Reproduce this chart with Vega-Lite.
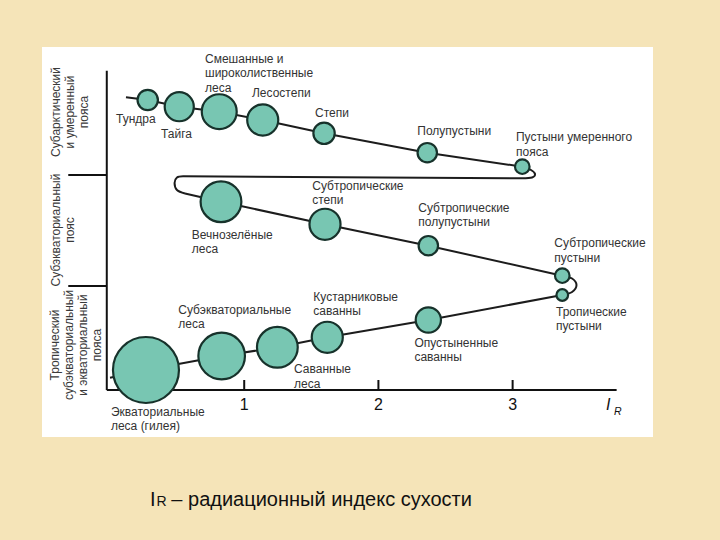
{
  "$schema": "https://vega.github.io/schema/vega-lite/v6.json",
  "width": 611,
  "height": 390,
  "autosize": {"type": "none"},
  "padding": {"left": 42, "top": 47, "right": 67, "bottom": 103},
  "background": "#F5E4B8",
  "config": {"view": {"fill": "white", "stroke": null}, "font": "Liberation Sans"},
  "datasets": {
    "axes": [
      {"x": -0.024, "y": 0, "x2": 3.775, "y2": 0},
      {"x": -0.024, "y": 0, "x2": -0.024, "y2": 319.3},
      {"x": -0.311, "y": 215, "x2": -0.024, "y2": 215},
      {"x": -0.311, "y": 104, "x2": -0.024, "y2": 104},
      {"x": 1, "y": 0, "x2": 1, "y2": 10},
      {"x": 2, "y": 0, "x2": 2, "y2": 10},
      {"x": 3, "y": 0, "x2": 3, "y2": 10}
    ],
    "path": [
      {"seg": "A", "kind": "straight", "ord": 0, "x": 0.119, "y": 292.7},
      {"seg": "A", "kind": "straight", "ord": 1, "x": 0.281, "y": 290},
      {"seg": "A", "kind": "straight", "ord": 2, "x": 0.516, "y": 283.3},
      {"seg": "A", "kind": "straight", "ord": 3, "x": 0.814, "y": 278.3},
      {"seg": "A", "kind": "straight", "ord": 4, "x": 1.138, "y": 270},
      {"seg": "A", "kind": "straight", "ord": 5, "x": 1.595, "y": 256.7},
      {"seg": "A", "kind": "straight", "ord": 6, "x": 2.364, "y": 237.3},
      {"seg": "A", "kind": "straight", "ord": 7, "x": 3.072, "y": 223.3},
      {"seg": "L1", "kind": "loop", "ord": 0, "x": 3.072, "y": 223.3},
      {"seg": "L1", "kind": "loop", "ord": 1, "x": 3.137, "y": 220},
      {"seg": "L1", "kind": "loop", "ord": 2, "x": 3.167, "y": 216},
      {"seg": "L1", "kind": "loop", "ord": 3, "x": 3.145, "y": 212.5},
      {"seg": "L1", "kind": "loop", "ord": 4, "x": 3.070, "y": 211.7},
      {"seg": "B", "kind": "straight", "ord": 0, "x": 3.070, "y": 211.7},
      {"seg": "B", "kind": "straight", "ord": 1, "x": 0.544, "y": 213.7},
      {"seg": "L2", "kind": "loop", "ord": 0, "x": 0.544, "y": 213.7},
      {"seg": "L2", "kind": "loop", "ord": 1, "x": 0.499, "y": 212.5},
      {"seg": "L2", "kind": "loop", "ord": 2, "x": 0.481, "y": 207},
      {"seg": "L2", "kind": "loop", "ord": 3, "x": 0.499, "y": 200},
      {"seg": "L2", "kind": "loop", "ord": 4, "x": 0.559, "y": 196.5},
      {"seg": "C", "kind": "straight", "ord": 0, "x": 0.559, "y": 196.5},
      {"seg": "C", "kind": "straight", "ord": 1, "x": 0.827, "y": 188.3},
      {"seg": "C", "kind": "straight", "ord": 2, "x": 1.602, "y": 165.7},
      {"seg": "C", "kind": "straight", "ord": 3, "x": 2.372, "y": 144.3},
      {"seg": "C", "kind": "straight", "ord": 4, "x": 3.370, "y": 114.3},
      {"seg": "L3", "kind": "loop", "ord": 0, "x": 3.370, "y": 114.3},
      {"seg": "L3", "kind": "loop", "ord": 1, "x": 3.443, "y": 111.5},
      {"seg": "L3", "kind": "loop", "ord": 2, "x": 3.476, "y": 105},
      {"seg": "L3", "kind": "loop", "ord": 3, "x": 3.443, "y": 98},
      {"seg": "L3", "kind": "loop", "ord": 4, "x": 3.370, "y": 95},
      {"seg": "D", "kind": "straight", "ord": 0, "x": 3.370, "y": 95},
      {"seg": "D", "kind": "straight", "ord": 1, "x": 2.372, "y": 70},
      {"seg": "D", "kind": "straight", "ord": 2, "x": 1.619, "y": 52.7},
      {"seg": "D", "kind": "straight", "ord": 3, "x": 1.247, "y": 42.7},
      {"seg": "D", "kind": "straight", "ord": 4, "x": 0.832, "y": 34},
      {"seg": "D", "kind": "straight", "ord": 5, "x": 0.268, "y": 20},
      {"seg": "D", "kind": "straight", "ord": 6, "x": 0, "y": 12.3}
    ],
    "biomes": [
      {"name": "Тундра", "x": 0.281, "y": 290, "r": 10.5},
      {"name": "Тайга", "x": 0.516, "y": 283.3, "r": 15},
      {"name": "Смешанные и широколиственные леса", "x": 0.814, "y": 278.3, "r": 18},
      {"name": "Лесостепи", "x": 1.138, "y": 270, "r": 16},
      {"name": "Степи", "x": 1.595, "y": 256.7, "r": 11},
      {"name": "Полупустыни", "x": 2.364, "y": 237.3, "r": 10},
      {"name": "Пустыни умеренного пояса", "x": 3.072, "y": 223.3, "r": 7.5},
      {"name": "Вечнозелёные леса", "x": 0.827, "y": 188.3, "r": 21},
      {"name": "Субтропические степи", "x": 1.602, "y": 165.7, "r": 16},
      {"name": "Субтропические полупустыни", "x": 2.372, "y": 144.3, "r": 10},
      {"name": "Субтропические пустыни", "x": 3.370, "y": 114.3, "r": 7.5},
      {"name": "Тропические пустыни", "x": 3.370, "y": 95, "r": 6},
      {"name": "Опустыненные саванны", "x": 2.372, "y": 70, "r": 13},
      {"name": "Кустарниковые саванны", "x": 1.619, "y": 52.7, "r": 16},
      {"name": "Саванные леса", "x": 1.247, "y": 42.7, "r": 21},
      {"name": "Субэкваториальные леса", "x": 0.832, "y": 34, "r": 24},
      {"name": "Экваториальные леса (гилея)", "x": 0.268, "y": 20, "r": 34}
    ],
    "labels": [
      {"text": ["Тундра"], "x": 0.045, "y": 270.7},
      {"text": ["Тайга"], "x": 0.380, "y": 255.7},
      {"text": ["Смешанные и", "широколиственные", "леса"], "x": 0.708, "y": 331},
      {"text": ["Лесостепи"], "x": 1.058, "y": 296.7},
      {"text": ["Степи"], "x": 1.528, "y": 277.3},
      {"text": ["Полупустыни"], "x": 2.290, "y": 259},
      {"text": ["Пустыни умеренного", "пояса"], "x": 3.025, "y": 252.7},
      {"text": ["Субтропические", "степи"], "x": 1.507, "y": 204},
      {"text": ["Вечнозелёные", "леса"], "x": 0.609, "y": 155},
      {"text": ["Субтропические", "полупустыни"], "x": 2.297, "y": 182.3},
      {"text": ["Субтропические", "пустыни"], "x": 3.311, "y": 146.7},
      {"text": ["Тропические", "пустыни"], "x": 3.323, "y": 78.3},
      {"text": ["Опустыненные", "саванны"], "x": 2.268, "y": 47.3},
      {"text": ["Субэкваториальные", "леса"], "x": 0.509, "y": 80},
      {"text": ["Кустарниковые", "саванны"], "x": 1.515, "y": 93.3},
      {"text": ["Саванные", "леса"], "x": 1.371, "y": 20.7},
      {"text": ["Экваториальные", "леса (гилея)"], "x": 0.007, "y": -21.7}
    ],
    "belts": [
      {"text": ["Субарктический", "и умеренный", "пояса"], "x": -0.402, "y": 278},
      {"text": ["Субэкваториальный", "пояс"], "x": -0.406, "y": 160},
      {"text": ["Тропический", "субэкваториальный", "и экваториальный", "пояса"], "x": -0.410, "y": 45}
    ],
    "ticklabels": [
      {"text": "1", "x": 1, "y": -15},
      {"text": "2", "x": 2, "y": -15},
      {"text": "3", "x": 3, "y": -15}
    ]
  },
  "encoding": {
    "x": {"field": "x", "type": "quantitative", "scale": {"domain": [-0.5067, 4.046], "zero": false, "nice": false}, "axis": null},
    "y": {"field": "y", "type": "quantitative", "scale": {"domain": [-47, 343], "zero": false, "nice": false}, "axis": null}
  },
  "layer": [
    {
      "data": {"name": "axes"},
      "mark": {"type": "rule", "color": "#111111", "strokeWidth": 2},
      "encoding": {"x2": {"field": "x2"}, "y2": {"field": "y2"}}
    },
    {
      "data": {"name": "path"},
      "transform": [{"filter": "datum.kind === 'straight'"}],
      "mark": {"type": "line", "color": "#1c1c1c", "strokeWidth": 2, "interpolate": "linear"},
      "encoding": {"detail": {"field": "seg"}, "order": {"field": "ord", "type": "quantitative"}}
    },
    {
      "data": {"name": "path"},
      "transform": [{"filter": "datum.kind === 'loop'"}],
      "mark": {"type": "line", "color": "#1c1c1c", "strokeWidth": 2, "interpolate": "cardinal"},
      "encoding": {"detail": {"field": "seg"}, "order": {"field": "ord", "type": "quantitative"}}
    },
    {
      "data": {"name": "biomes"},
      "mark": {"type": "point", "shape": "circle", "filled": true, "fill": "#78C6B2", "stroke": "#17322B", "strokeWidth": 2.2, "opacity": 1, "fillOpacity": 1},
      "encoding": {
        "size": {"field": "r", "type": "quantitative", "scale": {"type": "pow", "exponent": 2, "domain": [0, 34], "range": [0, 4356], "zero": true}, "legend": null}
      }
    },
    {
      "data": {"name": "labels"},
      "mark": {"type": "text", "align": "left", "baseline": "middle", "fontSize": 12, "lineHeight": 14.3, "color": "#333333"},
      "encoding": {"text": {"field": "text"}}
    },
    {
      "data": {"name": "belts"},
      "mark": {"type": "text", "align": "center", "baseline": "middle", "angle": 270, "fontSize": 12, "lineHeight": 14, "color": "#3a3a3a"},
      "encoding": {"text": {"field": "text"}}
    },
    {
      "data": {"name": "ticklabels"},
      "mark": {"type": "text", "align": "center", "baseline": "middle", "fontSize": 16, "color": "#111111"},
      "encoding": {"text": {"field": "text"}}
    },
    {
      "data": {"values": [{"text": "I", "x": 3.713, "y": -15}]},
      "mark": {"type": "text", "align": "center", "baseline": "middle", "fontSize": 16, "fontStyle": "italic", "color": "#111111"},
      "encoding": {"text": {"field": "text"}}
    },
    {
      "data": {"values": [{"text": "R", "x": 3.783, "y": -21.7}]},
      "mark": {"type": "text", "align": "center", "baseline": "middle", "fontSize": 10.5, "fontStyle": "italic", "color": "#111111"},
      "encoding": {"text": {"field": "text"}}
    },
    {
      "data": {"values": [{"text": "I", "x": 0.298, "y": -116}]},
      "mark": {"type": "text", "align": "left", "baseline": "alphabetic", "fontSize": 20, "color": "#111111"},
      "encoding": {"text": {"field": "text"}}
    },
    {
      "data": {"values": [{"text": "R", "x": 0.346, "y": -116}]},
      "mark": {"type": "text", "align": "left", "baseline": "alphabetic", "fontSize": 14, "color": "#111111"},
      "encoding": {"text": {"field": "text"}}
    },
    {
      "data": {"values": [{"text": "– радиационный индекс сухости", "x": 2.697, "y": -116}]},
      "mark": {"type": "text", "align": "right", "baseline": "alphabetic", "fontSize": 20, "color": "#111111"},
      "encoding": {"text": {"field": "text"}}
    }
  ]
}
